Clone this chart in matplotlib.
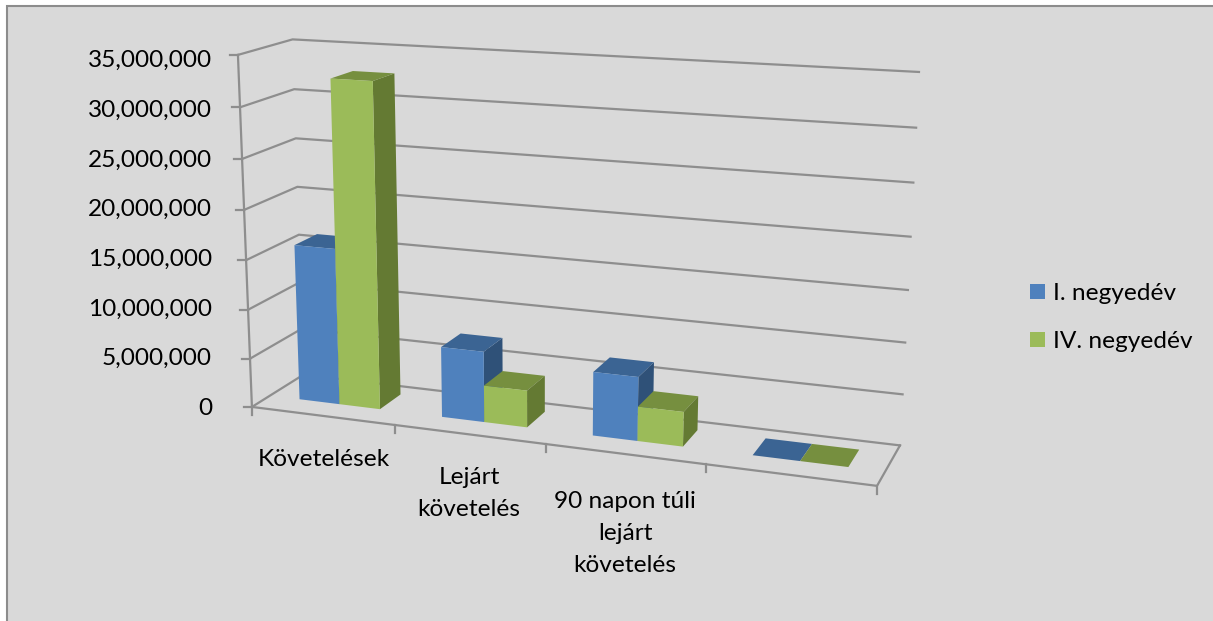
import numpy as np
import matplotlib
matplotlib.use("Agg")
import matplotlib.pyplot as plt
from matplotlib.lines import Line2D
from matplotlib.patches import Rectangle
from mpl_toolkits.mplot3d import Axes3D  # noqa: F401

categories = ["Követelések", "Lejárt\nkövetelés", "90 napon túli\nlejárt\nkövetelés", ""]
series_names = ["I. negyedév", "IV. negyedév"]
q1_values = [15900000, 7100000, 6300000, 0]
q4_values = [32600000, 3700000, 3400000, 0]
z_ticks = [0, 5000000, 10000000, 15000000, 20000000, 25000000, 30000000, 35000000]

W, H = 1213, 621
FONT = "Lato"
FS = 17.6
GRID = "#8E8E8E"
BG = "#D9D9D9"
FRONT = ["#4F81BD", "#9BBB59"]
TOP = ["#3B6493", "#768F3F"]
SIDE = ["#2F5178", "#647A33"]
Z_MAX = z_ticks[-1]

# camera: frame corners of the 3-D box on the canvas (x cat, y depth, z/zmax -> px)
frame_3d = np.array([
    (0, 0, 1), (0, 0, 0), (4, 0, 0), (4, 1, 0), (4, 1, 1), (0, 1, 1), (0, 1, 0),
    (1, 0, 0), (2, 0, 0), (3, 0, 0), (4, 1, 6 / 7), (4, 1, 1 / 7), (0, 0, 6 / 7), (0, 1, 6 / 7),
], float)
frame_px = np.array([
    (236, 55), (254, 406), (877, 487), (900, 444), (918, 72), (293, 39.5), (301, 376),
    (395, 424.5), (546, 444), (706, 465), (917, 128), (903, 394), (240, 107), (296, 89),
], float)


def fit_camera(a, b):
    rows = []
    for (x, y, z), (u, v) in zip(a, b):
        rows.append([x, y, z, 1, 0, 0, 0, 0, -u * x, -u * y, -u * z, -u])
        rows.append([0, 0, 0, 0, x, y, z, 1, -v * x, -v * y, -v * z, -v])
    s = np.linalg.svd(np.array(rows))[2][-1].reshape(3, 4)
    s = s / s[2, 3]
    return s @ np.diag([1, 1, 1 / Z_MAX, 1])


P = fit_camera(frame_3d, frame_px)


def to_px(x, y, z):
    q = P @ np.array([x, y, z, 1.0])
    return q[0] / q[2], q[1] / q[2]


plt.rcParams["font.family"] = [FONT, "DejaVu Sans"]
fig = plt.figure(figsize=(W / 100, H / 100), dpi=100, facecolor="white")
fig.add_artist(Rectangle((6.5 / W, -0.1), 1.1, 1.1 - 5.5 / H, transform=fig.transFigure,
                         facecolor=BG, edgecolor="#8C8C8C", linewidth=1.5, zorder=-5))

ax = fig.add_axes([0, 0, 1, 1], projection="3d", computed_zorder=False)
ax.set_axis_off()
ax.patch.set_visible(False)
ax.apply_aspect = lambda position=None: None


def camera_matrix():
    # px (y down) -> display (y up) -> axes data coordinates
    disp = np.array([[1, 0, 0], [0, -1, H], [0, 0, 1]], float)
    inv = ax.transData.inverted().get_affine().get_matrix()
    p = inv @ disp @ P
    depth = np.array([0, 0.01, 0, -0.1], float)
    return np.vstack([p[0], p[1], depth, p[2]])


ax.get_proj = camera_matrix


def line2d(xs, ys, lw=1.6):
    fig.add_artist(Line2D(np.array(xs) / W, 1 - np.array(ys) / H, color=GRID, lw=lw,
                          transform=fig.transFigure, zorder=1, solid_capstyle="projecting"))


# walls and floor
n_cat = len(categories)
label_rows = np.linspace(405, 57, len(z_ticks))
for z, row in zip(z_ticks, label_rows):
    ax.plot([0, 0, n_cat], [0, 1, 1], [z, z, z], color=GRID, lw=1.6, zorder=1)
    u, v = to_px(0, 0, z)
    line2d([u - 8, u], [v, v])
    fig.text(212 / W, 1 - (row + 10) / H, f"{z:,}", ha="right", va="baseline", fontsize=FS, color="black")
ax.plot([0, 0], [0, 0], [0, Z_MAX], color=GRID, lw=1.6, zorder=1)
ax.plot([0, n_cat, n_cat], [0, 0, 1], [0, 0, 0], color=GRID, lw=1.6, zorder=1)
for k in range(n_cat + 1):
    u, v = to_px(k, 0, 0)
    line2d([u, u], [v, v + 8])

# bars
gap = 1.5
bar_w = 1 / (2 + gap)
depth_front, depth_back = 0.34, 0.78
clear = (0, 0, 0, 0)
for s, vals in enumerate([q1_values, q4_values]):
    for c, val in enumerate(vals):
        x0 = c + gap / 2 * bar_w + s * bar_w
        faces = [clear, TOP[s], FRONT[s], clear, clear, SIDE[s]]
        ax.bar3d(x0, depth_front, 0, bar_w, depth_back - depth_front, val, color=faces,
                 shade=False, zorder=5 + c * 2 + s, edgecolor="none")

# category labels
label_centres = [324, 469, 625]
label_tops = [457, 475, 499]
for name, cx, top in zip(categories, label_centres, label_tops):
    for i, part in enumerate(name.split("\n")):
        fig.text(cx / W, 1 - (top + 8.5 + i * 32.5) / H, part, ha="center", va="baseline",
                 fontsize=FS, color="black")

# legend
for name, col, yc in zip(series_names, FRONT, [291.5, 339.5]):
    fig.add_artist(Rectangle((1030 / W, 1 - (yc + 7.5) / H), 15 / W, 15 / H, transform=fig.transFigure,
                             facecolor=col, edgecolor="none"))
    fig.text(1053 / W, 1 - (yc + 8.5) / H, name, ha="left", va="baseline", fontsize=FS, color="black")

fig.savefig("out.png", dpi=100)
